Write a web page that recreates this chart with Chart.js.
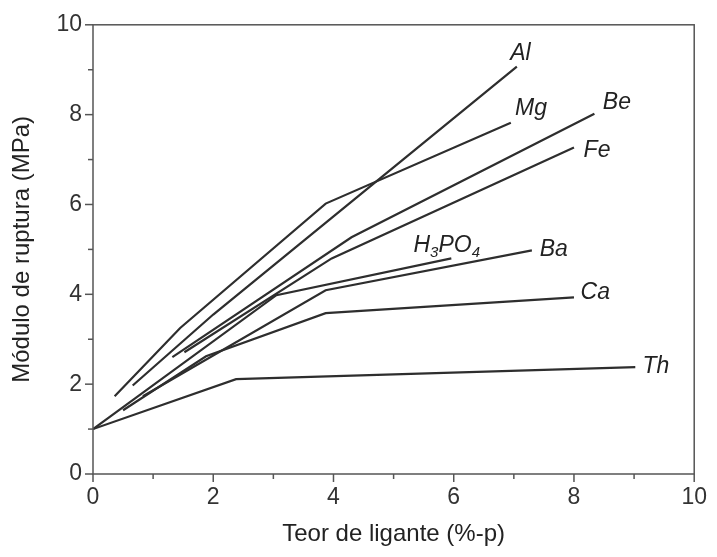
<!DOCTYPE html>
<html>
<head>
<meta charset="utf-8">
<script src="https://cdn.jsdelivr.net/npm/chart.js@4"></script>
<style>
  html, body { margin: 0; padding: 0; background: #fff; }
  #wrap { width: 717px; height: 557px; }
</style>
</head>
<body>
<div id="wrap"><canvas id="chart" width="717" height="557"></canvas></div>
<script>
// Binder content (%-p) and rupture modulus (MPa)
const alX  = [0.66, 2.0, 7.05];
const alY  = [1.97, 3.55, 9.07];
const mgX  = [0.36, 1.45, 3.87, 6.95];
const mgY  = [1.73, 3.25, 6.02, 7.82];
const beX  = [1.32, 4.3, 8.34];
const beY  = [2.6, 5.27, 8.02];
const feX  = [1.52, 3.97, 8.0];
const feY  = [2.71, 4.8, 7.27];
const h3X  = [0, 3.05, 5.96];
const h3Y  = [1.0, 3.98, 4.8];
const baX  = [0.83, 3.87, 7.3];
const baY  = [1.73, 4.09, 4.98];
const caX  = [0.5, 1.88, 3.87, 8.0];
const caY  = [1.42, 2.62, 3.58, 3.93];
const thX  = [0, 2.38, 9.02];
const thY  = [1.0, 2.11, 2.38];

const seriesNames = ['Al', 'Mg', 'Be', 'Fe', 'H3PO4', 'Ba', 'Ca', 'Th'];
const seriesX = [alX, mgX, beX, feX, h3X, baX, caX, thX];
const seriesY = [alY, mgY, beY, feY, h3Y, baY, caY, thY];

// where each curve name sits (data units, left edge / middle of text)
const labelX = [6.94, 7.02, 8.48, 8.16, 5.33, 7.43, 8.11, 9.14];
const labelY = [9.36, 8.13, 8.27, 7.2, 5.09, 5.0, 4.04, 2.38];

const xTicks = [0, 1, 2, 3, 4, 5, 6, 7, 8, 9, 10];
const yTicks = [0, 1, 2, 3, 4, 5, 6, 7, 8, 9, 10];

const axisColor = '#555';
const lineColor = '#2e2e2e';
const fontFamily = '"Liberation Sans", Arial, sans-serif';

const datasets = seriesNames.map((name, i) => ({
    label: name,
    data: seriesX[i].map((x, j) => ({ x: x, y: seriesY[i][j] })),
    showLine: true,
    borderColor: lineColor,
    borderWidth: 2.2,
    pointRadius: 0,
    tension: 0,
    fill: false
}));

// ticks, frame and curve names
const decorPlugin = {
    id: 'decor',
    afterDraw(chart) {
        const ctx = chart.ctx;
        const xs = chart.scales.x;
        const ys = chart.scales.y;
        const area = chart.chartArea;
        ctx.save();
        ctx.strokeStyle = axisColor;
        ctx.lineWidth = 1.5;
        ctx.strokeRect(area.left, area.top, area.right - area.left, area.bottom - area.top);
        xTicks.forEach(v => {
            const px = xs.getPixelForValue(v);
            const len = v % 2 === 0 ? 8 : 5;
            ctx.beginPath();
            ctx.moveTo(px, area.bottom);
            ctx.lineTo(px, area.bottom + len);
            ctx.stroke();
        });
        yTicks.forEach(v => {
            const py = ys.getPixelForValue(v);
            const len = v % 2 === 0 ? 8 : 5;
            ctx.beginPath();
            ctx.moveTo(area.left, py);
            ctx.lineTo(area.left - len, py);
            ctx.stroke();
        });

        ctx.fillStyle = '#222';
        ctx.textBaseline = 'middle';
        ctx.textAlign = 'left';
        seriesNames.forEach((name, i) => {
            let px = xs.getPixelForValue(labelX[i]);
            const py = ys.getPixelForValue(labelY[i]);
            if (name === 'H3PO4') {
                const parts = [['H', false], ['3', true], ['PO', false], ['4', true]];
                parts.forEach(p => {
                    ctx.font = p[1] ? 'italic 15px ' + fontFamily : 'italic 23px ' + fontFamily;
                    ctx.fillText(p[0], px, p[1] ? py + 7 : py);
                    px += ctx.measureText(p[0]).width;
                });
            } else {
                ctx.font = 'italic 23px ' + fontFamily;
                ctx.fillText(name, px, py);
            }
        });
        ctx.restore();
    }
};

new Chart(document.getElementById('chart'), {
    type: 'scatter',
    data: { datasets: datasets },
    options: {
        responsive: false,
        animation: false,
        layout: { padding: { left: 8, right: 20, top: 24, bottom: 8 } },
        plugins: { legend: { display: false }, tooltip: { enabled: false } },
        scales: {
            x: {
                type: 'linear',
                min: 0,
                max: 10,
                ticks: { stepSize: 2, padding: 10, color: '#333', font: { family: fontFamily, size: 23 } },
                grid: { display: false, drawTicks: false },
                border: { display: false },
                title: { display: true, text: 'Teor de ligante (%-p)', color: '#222', font: { family: fontFamily, size: 24 }, padding: { top: 10, bottom: 0 } },
                afterFit(scale) { scale.height = 557 - 474 - 8; }
            },
            y: {
                type: 'linear',
                min: 0,
                max: 10,
                ticks: { stepSize: 2, padding: 11, color: '#333', font: { family: fontFamily, size: 23 } },
                grid: { display: false, drawTicks: false },
                border: { display: false },
                title: { display: true, text: 'Módulo de ruptura (MPa)', color: '#222', font: { family: fontFamily, size: 24 }, padding: { top: 0, bottom: 8 } },
                afterFit(scale) { scale.width = 93 - 8; }
            }
        }
    },
    plugins: [decorPlugin]
});
</script>
</body>
</html>
